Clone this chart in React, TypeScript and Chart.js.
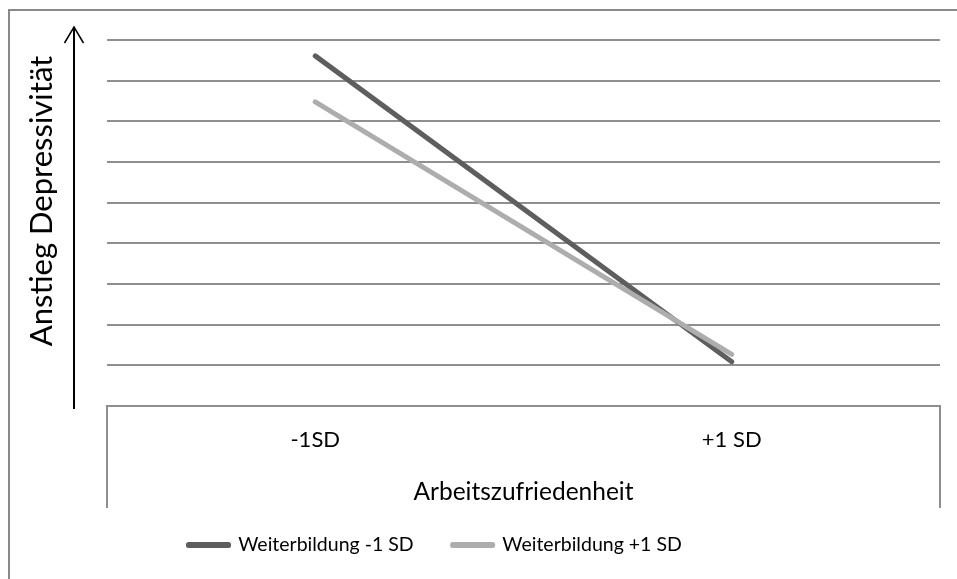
import React, { useEffect, useRef } from "react";
import { Chart, registerables } from "chart.js";

Chart.register(...registerables);

// ---- data ----
const categories = ["-1SD", "+1 SD"];
const seriesLabels = ["Weiterbildung -1 SD", "Weiterbildung +1 SD"];
const weiterbildungMinus1SD = [8.61, 1.09];
const weiterbildungPlus1SD = [7.48, 1.27];
const yMin = 0;
const yMax = 9;
const yStep = 1;
const xAxisTitle = "Arbeitszufriedenheit";
const yAxisTitle = "Anstieg Depressivität";

// ---- style ----
const FONT = "Lato, 'Open Sans', sans-serif";
const GRID = "#8f8f8f";
const DARK = "#5e5e5e";
const LIGHT = "#adadad";
const LEG_FONT = 19.5;
const LEG_PAD = 39;
const LEG_BOX_X = 188.5;
const LEG_CENTER_Y = 545;

const decorPlugin = {
  id: "decor",
  beforeDraw(chart: any) {
    const ctx = chart.ctx;
    ctx.save();
    ctx.fillStyle = "#ffffff";
    ctx.fillRect(0, 0, chart.width, chart.height);
    ctx.strokeStyle = "#898989";
    ctx.lineWidth = 2;
    ctx.beginPath();
    ctx.moveTo(9, chart.height);
    ctx.lineTo(9, 10);
    ctx.lineTo(chart.width, 10);
    ctx.stroke();
    const { left, right, bottom } = chart.chartArea;
    const xs = chart.scales.x;
    ctx.strokeStyle = GRID;
    ctx.beginPath();
    ctx.moveTo(left, bottom);
    ctx.lineTo(left, xs.bottom);
    ctx.moveTo(right, bottom);
    ctx.lineTo(right, xs.bottom);
    ctx.stroke();
    ctx.restore();
  },
  afterLayout(chart: any) {
    const lg = chart.legend;
    if (!lg) return;
    const w = lg.width;
    lg.left = LEG_BOX_X - LEG_PAD;
    lg.right = lg.left + w;
    lg.top = LEG_CENTER_Y - LEG_PAD - LEG_FONT / 2;
    lg.bottom = lg.top + 140;
  },
  afterDraw(chart: any) {
    const ctx = chart.ctx;
    ctx.save();
    // arrow
    ctx.strokeStyle = "#000";
    ctx.lineWidth = 2;
    ctx.beginPath();
    ctx.moveTo(74, 409);
    ctx.lineTo(74, 28);
    ctx.stroke();
    ctx.lineWidth = 1.5;
    ctx.beginPath();
    ctx.moveTo(64.5, 43);
    ctx.lineTo(74, 27);
    ctx.lineTo(83.5, 43);
    ctx.stroke();
    // y title
    ctx.translate(42, 201);
    ctx.rotate(-Math.PI / 2);
    ctx.fillStyle = "#000";
    ctx.font = `31px ${FONT}`;
    ctx.textAlign = "center";
    ctx.textBaseline = "middle";
    ctx.fillText(yAxisTitle, 0, 0);
    ctx.restore();
  },
};

export default function App() {
  const ref = useRef<HTMLCanvasElement | null>(null);
  useEffect(() => {
    if (!ref.current) return;
    const chart = new Chart(ref.current, {
      type: "line",
      data: {
        labels: categories,
        datasets: [
          {
            label: seriesLabels[0],
            data: weiterbildungMinus1SD,
            borderColor: DARK,
            backgroundColor: DARK,
            borderWidth: 5,
            pointRadius: 0,
            borderCapStyle: "round",
            borderJoinStyle: "round",
            tension: 0,
            order: 1,
          },
          {
            label: seriesLabels[1],
            data: weiterbildungPlus1SD,
            borderColor: LIGHT,
            backgroundColor: LIGHT,
            borderWidth: 5,
            pointRadius: 0,
            borderCapStyle: "round",
            borderJoinStyle: "round",
            tension: 0,
            order: 0,
          },
        ],
      },
      options: {
        responsive: false,
        animation: false,
        devicePixelRatio: 1,
        layout: { padding: { left: 0, right: 17, top: 40, bottom: 21 } },
        scales: {
          x: {
            type: "category",
            offset: true,
            grid: { display: false },
            border: { display: true, color: GRID, width: 2 },
            ticks: {
              color: "#000",
              font: { family: FONT, size: 22 },
              padding: 13,
              maxRotation: 0,
            },
            title: {
              display: true,
              text: xAxisTitle,
              color: "#000",
              font: { family: FONT, size: 24.5 },
              padding: { top: 0, bottom: 1 },
            },
            afterFit: (s: any) => {
              s.height = 102;
            },
          },
          y: {
            min: yMin,
            max: yMax,
            ticks: { display: false, stepSize: yStep },
            grid: { color: GRID, lineWidth: 2, drawTicks: false },
            border: { display: false },
            afterFit: (s: any) => {
              s.width = 107;
            },
          },
        },
        plugins: {
          legend: {
            position: "bottom",
            align: "start",
            maxHeight: 50,
            labels: {
              color: "#000",
              font: { family: FONT, size: LEG_FONT },
              boxWidth: 40,
              boxHeight: 1,
              padding: LEG_PAD,
              sort: (a: any, b: any) => a.datasetIndex - b.datasetIndex,
            },
          },
          tooltip: { enabled: false },
        },
      },
      plugins: [decorPlugin],
    });
    return () => chart.destroy();
  }, []);
  return (
    <div style={{ position: "absolute", left: 0, top: 0, width: 957, height: 579 }}>
      <canvas ref={ref} width={957} height={579} style={{ display: "block" }} />
    </div>
  );
}
